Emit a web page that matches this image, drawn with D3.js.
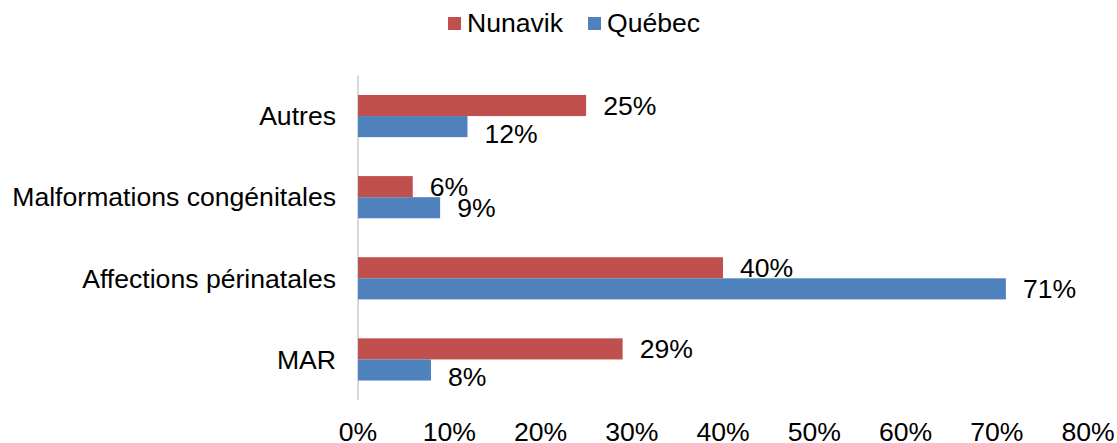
<!DOCTYPE html>
<html>
<head>
<meta charset="utf-8">
<script src="https://cdn.jsdelivr.net/npm/d3@7"></script>
<style>
	body { margin: 0; background: #fff; }
	text { font-family: "Liberation Sans", Arial, sans-serif; fill: #000; }
</style>
</head>
<body>
<svg id="chart" width="1117" height="443"></svg>
<script>
"use strict";

//
// Data
//
var categories = ["Autres", "Malformations congénitales", "Affections périnatales", "MAR"];
var seriesNames = ["Nunavik", "Québec"];
var nunavik = [0.25, 0.06, 0.40, 0.29];
var quebec = [0.12, 0.09, 0.71, 0.08];
var xTicks = [0, 0.1, 0.2, 0.3, 0.4, 0.5, 0.6, 0.7, 0.8];
var colors = ["#C0504D", "#4F81BD"];

var rows = categories.map(function(c, i) {
	return { category: c, values: [nunavik[i], quebec[i]] };
});

//
// Setup Variables
//
var svg = d3.select("#chart");
var fontSize = 26.6;

var x = d3.scaleLinear()
	.domain([0, 0.8])
	.range([358, 1088]);

var y = d3.scaleBand()
	.domain(categories)
	.range([75.5, 400])
	.paddingInner(0.48)
	.paddingOuter(0.24);

var inner = d3.scaleBand()
	.domain(seriesNames)
	.range([0, y.bandwidth()]);

var pct = d3.format(".0%");

//
// Axes
//
svg.append("line")
	.attr("x1", x(0)).attr("x2", x(0))
	.attr("y1", 75.5).attr("y2", 400)
	.attr("stroke", "#d9d9d9")
	.attr("stroke-width", 2);

svg.append("g")
	.selectAll("text")
	.data(xTicks)
	.enter()
	.append("text")
	.attr("x", function(d) { return x(d); })
	.attr("y", 441)
	.attr("text-anchor", "middle")
	.style("font-size", fontSize + "px")
	.text(pct);

svg.append("g")
	.selectAll("text")
	.data(categories)
	.enter()
	.append("text")
	.attr("x", 336)
	.attr("y", function(d) { return y(d) + y.bandwidth() / 2; })
	.attr("dy", "0.35em")
	.attr("text-anchor", "end")
	.style("font-size", fontSize + "px")
	.text(function(d) { return d; });

//
// Bars
//
var group = svg.append("g")
	.selectAll(".group")
	.data(rows)
	.enter()
	.append("g")
	.attr("class", "group")
	.attr("transform", function(d) { return "translate(0," + y(d.category) + ")"; });

var bars = group.selectAll(".bar")
	.data(function(d) {
		return d.values.map(function(v, j) {
			return { series: seriesNames[j], value: v, index: j, other: d.values[1 - j] };
		});
	})
	.enter();

bars.append("rect")
	.attr("class", "bar")
	.attr("x", x(0))
	.attr("y", function(d) { return inner(d.series); })
	.attr("width", function(d) { return x(d.value) - x(0); })
	.attr("height", inner.bandwidth())
	.attr("fill", function(d) { return colors[d.index]; });

// Québec labels sit a little lower, except where its bar is the longer one
bars.append("text")
	.attr("x", function(d) { return x(d.value) + 17; })
	.attr("y", function(d) {
		var shift = (d.index === 1 && d.value < d.other) ? 7 : 0;
		return inner(d.series) + inner.bandwidth() / 2 + shift;
	})
	.attr("dy", "0.35em")
	.style("font-size", fontSize + "px")
	.text(function(d) { return pct(d.value); });

//
// Legend
//
var legendX = [448, 588];
var legend = svg.append("g")
	.selectAll(".legend")
	.data(seriesNames)
	.enter()
	.append("g")
	.attr("transform", function(d, i) { return "translate(" + legendX[i] + ",0)"; });

legend.append("rect")
	.attr("x", 0).attr("y", 17)
	.attr("width", 13).attr("height", 13)
	.attr("fill", function(d, i) { return colors[i]; });

legend.append("text")
	.attr("x", 19)
	.attr("y", 31.5)
	.style("font-size", fontSize + "px")
	.text(function(d) { return d; });
</script>
</body>
</html>
